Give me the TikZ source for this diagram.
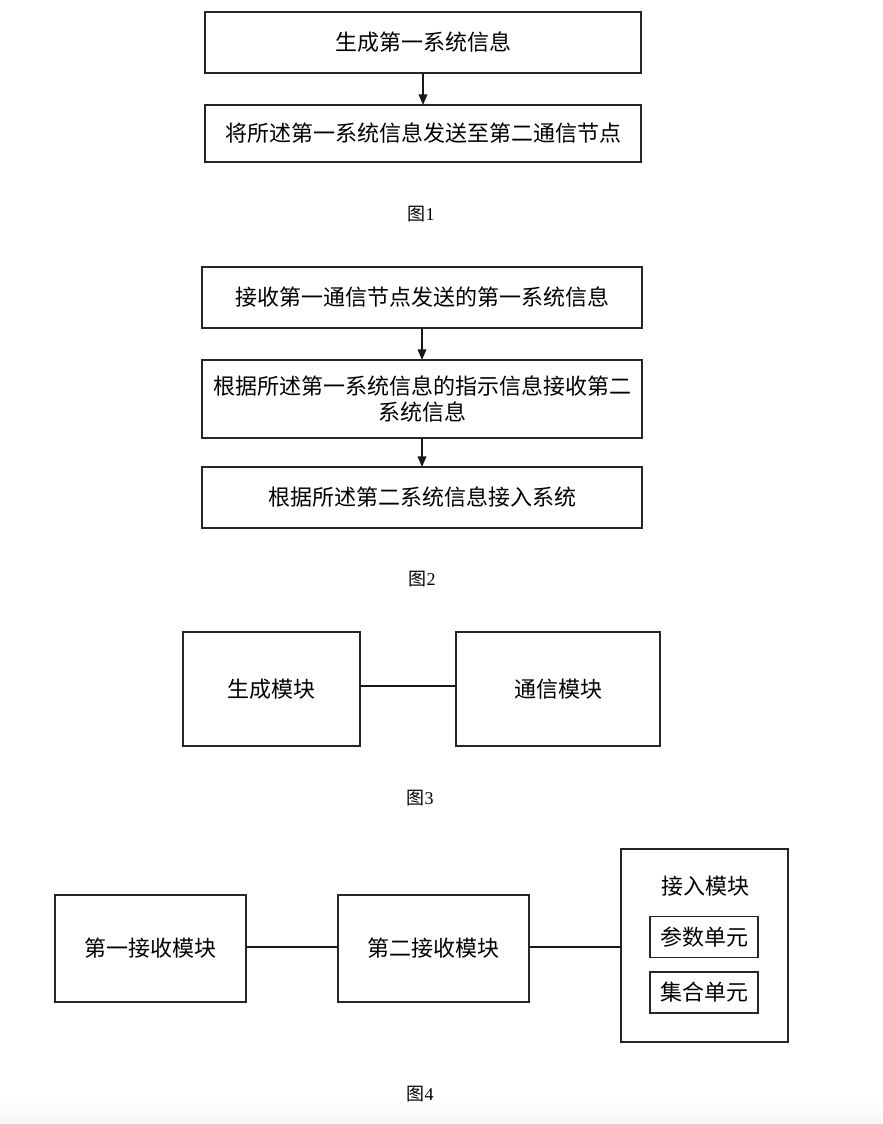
\documentclass[tikz,border=0pt]{standalone}
\usepackage{fontspec}
\setmainfont{Liberation Serif}
\newfontfamily\cjk{Noto Sans CJK SC}
\usetikzlibrary{arrows.meta}
\tikzset{
  box/.style={draw=black!85, line width=1.1pt, inner sep=0pt, outer sep=0pt, font=\cjk\fontsize{16.5}{19.5}\selectfont, align=center},
  figcap/.style={font=\fontsize{13.5}{15}\selectfont, inner sep=0pt},
  flow/.style={draw=black!90, line width=1.1pt, -{Triangle[length=8pt,width=6.5pt]}},
  link/.style={draw=black!90, line width=1.1pt},
}
\begin{document}
\begin{tikzpicture}[x=0.75pt,y=-0.75pt]
\useasboundingbox (0,0) rectangle (882,1124);
\shade[top color=white, bottom color=black!4] (0,1100) rectangle (882,1124);
% Fig 1
\node[box, minimum width=436*0.75pt, minimum height=61*0.75pt] (a1) at (423,42.5) {生成第一系统信息};
\node[box, minimum width=436*0.75pt, minimum height=57*0.75pt] (a2) at (423,133.5) {将所述第一系统信息发送至第二通信节点};
\draw[flow] (a1.south) -- (a2.north);
\node[figcap] (c1) at (421,214) {{\cjk 图}1};
% Fig 2
\node[box, minimum width=440*0.75pt, minimum height=61*0.75pt] (b1) at (422,297.5) {接收第一通信节点发送的第一系统信息};
\node[box, minimum width=440*0.75pt, minimum height=78*0.75pt] (b2) at (422,399) {根据所述第一系统信息的指示信息接收第二\\系统信息};
\node[box, minimum width=440*0.75pt, minimum height=61*0.75pt] (b3) at (422,497.5) {根据所述第二系统信息接入系统};
\draw[flow] (b1.south) -- (b2.north);
\draw[flow] (b2.south) -- (b3.north);
\node[figcap] (c2) at (422,579) {{\cjk 图}2};
% Fig 3
\node[box, minimum width=177*0.75pt, minimum height=114*0.75pt] (g1) at (271.5,689) {生成模块};
\node[box, minimum width=204*0.75pt, minimum height=114*0.75pt] (g2) at (558,689) {通信模块};
\draw[link] (g1.east |- 0,686) -- (g2.west |- 0,686);
\node[figcap] (c3) at (420,798) {{\cjk 图}3};
% Fig 4
\node[box, minimum width=191*0.75pt, minimum height=107*0.75pt] (r1) at (150.5,948.5) {第一接收模块};
\node[box, minimum width=191*0.75pt, minimum height=107*0.75pt] (r2) at (433.5,948.5) {第二接收模块};
\node[box, minimum width=167*0.75pt, minimum height=193*0.75pt] (acc) at (704.5,945.5) {};
\node[box, draw=none, inner sep=0pt] (acct) at (705,886) {接入模块};
\node[box, minimum width=108*0.75pt, minimum height=41*0.75pt] (u1) at (704,937) {参数单元};
\node[box, minimum width=108*0.75pt, minimum height=41*0.75pt] (u2) at (704,992.5) {集合单元};
\draw[link] (r1.east |- 0,947) -- (r2.west |- 0,947);
\draw[link] (r2.east |- 0,947) -- (acc.west |- 0,947);
\node[figcap] (c4) at (420,1094) {{\cjk 图}4};
\end{tikzpicture}
\end{document}
